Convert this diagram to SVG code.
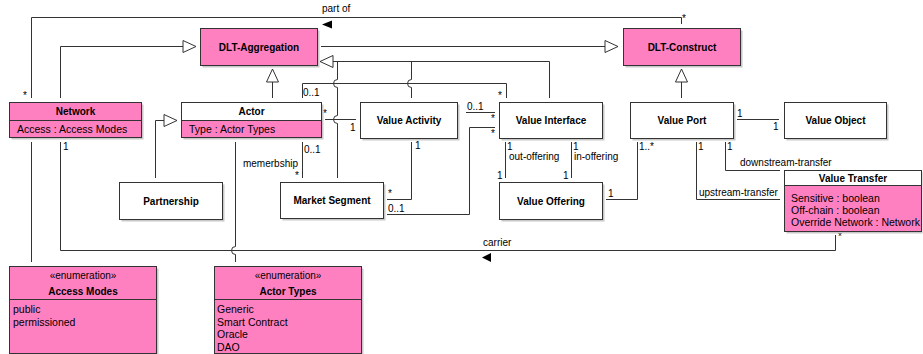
<svg xmlns="http://www.w3.org/2000/svg" width="923" height="354" viewBox="0 0 923 354">
<style>
text{font-family:"Liberation Sans",Arial,sans-serif;fill:#000}
.t{font-size:10px;font-weight:bold;text-anchor:middle}
.a{font-size:10.5px}
.l{font-size:10px}
.c{font-size:10px;text-anchor:middle}
.box{stroke:#333;stroke-width:1}
.w{fill:#fff}
.p{fill:#ff80c0}
.sh{fill:#c8c8c8}
.ln{fill:none;stroke:#333;stroke-width:1}
</style>
<defs>
<marker id="gen" markerUnits="userSpaceOnUse" markerWidth="18" markerHeight="18" viewBox="-2 -9 18 18" refX="13" refY="0" orient="auto"><path d="M0,-6 L13,0 L0,6 Z" fill="#fff" stroke="#333"/></marker>
</defs>
<g id="connectors">
<path class="ln" d="M31.5,98 V17.5 H681.5 V24"/>
<polygon points="322,24.5 332,20.5 332,28.5" fill="#000"/>
<text class="l" x="322" y="12">part of</text>
<text class="l" x="23" y="99">*</text>
<text class="l" x="682" y="22">*</text>
<path class="ln" d="M60.5,98 V46.5 H196" marker-end="url(#gen)"/>
<path class="ln" d="M272.5,98 V69" marker-end="url(#gen)"/>
<path class="ln" d="M155.5,178 V120.5 H177" marker-end="url(#gen)"/>
<path class="ln" d="M321,46.5 H618" marker-end="url(#gen)"/>
<path class="ln" d="M681.5,98 V69" marker-end="url(#gen)"/>
<path class="ln" d="M549.5,98 V61.5 H320" marker-end="url(#gen)"/>
<path class="ln" d="M411.5,61.5 V79.5 A4,4 0 0 0 411.5,87.5 V98"/>
<path class="ln" d="M337.5,61.5 V79.5 A4,4 0 0 0 337.5,87.5 V115.5 A4,4 0 0 0 337.5,123.5 V178"/>
<path class="ln" d="M302.5,98 V83.5 H506.5 V98"/>
<text class="l" x="303" y="96">0..1</text>
<text class="l" x="498" y="99">*</text>
<path class="ln" d="M325,119.5 H356"/>
<text class="l" x="323" y="117">*</text>
<text class="l" x="350" y="131">1</text>
<path class="ln" d="M302.5,142 V178"/>
<text class="l" x="304" y="153">0..1</text>
<text class="l" x="298" y="167" text-anchor="end">memerbship</text>
<text class="l" x="295" y="179">*</text>
<path class="ln" d="M466,112.5 H495"/>
<text class="l" x="467" y="110">0..1</text>
<text class="l" x="491" y="122">*</text>
<path class="ln" d="M411.5,142 V199.5 H387"/>
<text class="l" x="415" y="149">1</text>
<text class="l" x="388" y="197">*</text>
<path class="ln" d="M387,214.5 H469.5 V127.5 H495"/>
<text class="l" x="388" y="212">0..1</text>
<text class="l" x="491" y="137">*</text>
<path class="ln" d="M505.5,142 V178"/>
<text class="l" x="507" y="150">1</text>
<text class="l" x="509" y="160">out-offering</text>
<text class="l" x="497" y="179">1</text>
<path class="ln" d="M571.5,142 V178"/>
<text class="l" x="573" y="150">1</text>
<text class="l" x="574" y="160">in-offering</text>
<text class="l" x="563" y="179">1</text>
<path class="ln" d="M606,199.5 H637.5 V142"/>
<text class="l" x="608" y="197">1</text>
<text class="l" x="639" y="150">1..*</text>
<path class="ln" d="M696.5,142 V199.5 H780"/>
<text class="l" x="698" y="150">1</text>
<text class="l" x="699" y="196">upstream-transfer</text>
<path class="ln" d="M725.5,142 V170.5 H780"/>
<text class="l" x="727" y="150">1</text>
<text class="l" x="740" y="166">downstream-transfer</text>
<path class="ln" d="M737,119.5 H779"/>
<text class="l" x="737" y="117">1</text>
<text class="l" x="773" y="130">1</text>
<path class="ln" d="M60.5,142 V250.5 H835.5 V235"/>
<text class="l" x="63" y="150">1</text>
<text class="l" x="838" y="240">*</text>
<text class="l" x="483" y="246">carrier</text>
<polygon points="482,257.5 491,253 491,262" fill="#000"/>
<path class="ln" d="M235.5,142 V246.5 A4,4 0 0 0 235.5,254.5 V262"/>
<path class="ln" d="M31.5,142 V262"/>
</g>
<g id="dlt-aggregation">
<rect class="sh" x="202.5" y="30.5" width="117" height="37"/>
<rect class="box p" x="200.5" y="28.5" width="117" height="37"/>
<text class="t" x="259" y="51">DLT-Aggregation</text>
</g>
<g id="dlt-construct">
<rect class="sh" x="625.5" y="30.5" width="117" height="37"/>
<rect class="box p" x="623.5" y="28.5" width="117" height="37"/>
<text class="t" x="682" y="51">DLT-Construct</text>
</g>
<g id="network">
<rect class="sh" x="11.5" y="104.5" width="132" height="35"/>
<rect class="box p" x="9.5" y="102.5" width="132" height="35"/>
<line class="box" x1="9.5" y1="120.5" x2="141.5" y2="120.5"/>
<text class="t" x="75.5" y="115">Network</text>
<text class="a" x="17" y="133">Access : Access Modes</text>
</g>
<g id="actor">
<rect class="sh" x="183.5" y="104.5" width="140" height="35"/>
<rect class="box w" x="181.5" y="102.5" width="140" height="18"/>
<rect class="box p" x="181.5" y="120.5" width="140" height="17"/>
<text class="t" x="251.5" y="115">Actor</text>
<text class="a" x="189" y="133">Type : Actor Types</text>
</g>
<g id="value-activity">
<rect class="sh" x="362.5" y="104.5" width="97" height="36"/>
<rect class="box w" x="360.5" y="102.5" width="97" height="36"/>
<text class="t" x="409" y="124">Value Activity</text>
</g>
<g id="value-interface">
<rect class="sh" x="501.5" y="104.5" width="103" height="36"/>
<rect class="box w" x="499.5" y="102.5" width="103" height="36"/>
<text class="t" x="551" y="124">Value Interface</text>
</g>
<g id="value-port">
<rect class="sh" x="632.5" y="104.5" width="103" height="36"/>
<rect class="box w" x="630.5" y="102.5" width="103" height="36"/>
<text class="t" x="682" y="124">Value Port</text>
</g>
<g id="value-object">
<rect class="sh" x="786.5" y="104.5" width="102" height="36"/>
<rect class="box w" x="784.5" y="102.5" width="102" height="36"/>
<text class="t" x="835.5" y="124">Value Object</text>
</g>
<g id="partnership">
<rect class="sh" x="121.5" y="184.5" width="103" height="37"/>
<rect class="box w" x="119.5" y="182.5" width="103" height="37"/>
<text class="t" x="171" y="205">Partnership</text>
</g>
<g id="market-segment">
<rect class="sh" x="282.5" y="184.5" width="103" height="36"/>
<rect class="box w" x="280.5" y="182.5" width="103" height="36"/>
<text class="t" x="332" y="204">Market Segment</text>
</g>
<g id="value-offering">
<rect class="sh" x="501.5" y="184.5" width="103" height="37"/>
<rect class="box w" x="499.5" y="182.5" width="103" height="37"/>
<text class="t" x="551" y="205">Value Offering</text>
</g>
<g id="value-transfer">
<rect class="sh" x="786.5" y="172.5" width="136" height="61"/>
<rect class="box w" x="784.5" y="170.5" width="137" height="15"/>
<rect class="box p" x="784.5" y="185.5" width="137" height="46"/>
<text class="t" x="853" y="182">Value Transfer</text>
<text class="a" x="791" y="202">Sensitive : boolean</text>
<text class="a" x="791" y="214">Off-chain : boolean</text>
<text class="a" x="791" y="226">Override Network : Network</text>
</g>
<g id="access-modes">
<rect class="sh" x="11.5" y="268.5" width="147" height="87"/>
<rect class="box p" x="9.5" y="266.5" width="147" height="87"/>
<line class="box" x1="9.5" y1="299.5" x2="156.5" y2="299.5"/>
<text class="c" x="83" y="279">«enumeration»</text>
<text class="t" x="83" y="295">Access Modes</text>
<text class="a" x="13" y="313">public</text>
<text class="a" x="13" y="326">permissioned</text>
</g>
<g id="actor-types">
<rect class="sh" x="216.5" y="268.5" width="147" height="87"/>
<rect class="box p" x="214.5" y="266.5" width="147" height="87"/>
<line class="box" x1="214.5" y1="299.5" x2="361.5" y2="299.5"/>
<text class="c" x="288" y="279">«enumeration»</text>
<text class="t" x="288" y="295">Actor Types</text>
<text class="a" x="217" y="313">Generic</text>
<text class="a" x="217" y="326">Smart Contract</text>
<text class="a" x="217" y="338">Oracle</text>
<text class="a" x="217" y="351">DAO</text>
</g>
</svg>
